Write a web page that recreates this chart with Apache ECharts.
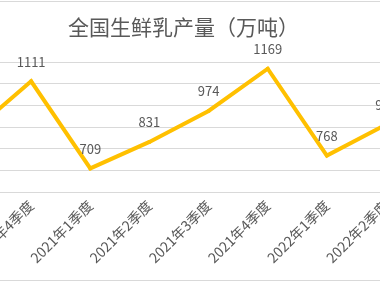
<!DOCTYPE html>
<html><head><meta charset="utf-8">
<script src="https://cdn.jsdelivr.net/npm/echarts@6/dist/echarts.min.js"></script>
<style>html,body{margin:0;padding:0;background:#fff;}#c{width:380px;height:282px;}</style>
</head><body><div id="c"></div>
<script>
const titleText = '全国生鲜乳产量（万吨）';
const categories = ['2020年3季度','2020年4季度','2021年1季度','2021年2季度','2021年3季度','2021年4季度','2022年1季度','2022年2季度'];
const production = [875, 1111, 709, 831, 974, 1169, 768, 911];
const yMin = 600, yMax = 1200, yStep = 100;

const chart = echarts.init(document.getElementById('c'), null, {renderer:'canvas'});
const font = "'Noto Sans CJK SC', 'Noto Sans', sans-serif";
chart.setOption({
  animation: false,
  backgroundColor: '#ffffff',
  textStyle: {fontFamily: font},
  title: {
    text: titleText, left: 63, top: 12,
    textStyle: {fontSize: 21, fontWeight: 'normal', color: '#595959', fontFamily: font}
  },
  grid: {left: -28, right: -6, top: 62, bottom: 90, containLabel: false, outerBoundsMode: 'none'},
  xAxis: {
    type: 'category', data: categories, boundaryGap: false,
    axisLine: {show: true, lineStyle: {color: '#D9D9D9', width: 1}},
    axisTick: {show: false},
    axisLabel: {rotate: 45, fontSize: 14, color: '#595959', margin: 11, interval: 0, hideOverlap: false, fontFamily: font}
  },
  yAxis: {
    type: 'value', min: yMin, max: yMax, interval: yStep,
    axisLabel: {show: false}, axisLine: {show: false}, axisTick: {show: false},
    splitLine: {lineStyle: {color: '#D9D9D9', width: 1}}
  },
  graphic: [
    {type: 'line', shape: {x1: 0, y1: 1.5, x2: 380, y2: 1.5}, style: {stroke: '#D9D9D9', lineWidth: 1}},
    {type: 'line', shape: {x1: 0, y1: 280.5, x2: 380, y2: 280.5}, style: {stroke: '#D9D9D9', lineWidth: 1}}
  ],
  series: [{
    type: 'line', data: production,
    symbol: 'circle', symbolSize: 4, showSymbol: true,
    itemStyle: {color: '#FFC000'},
    lineStyle: {color: '#FFC000', width: 4, join: 'miter'},
    label: {show: true, position: 'top', distance: 11, fontSize: 13, color: '#595959', fontFamily: font}
  }]
});
</script></body></html>
